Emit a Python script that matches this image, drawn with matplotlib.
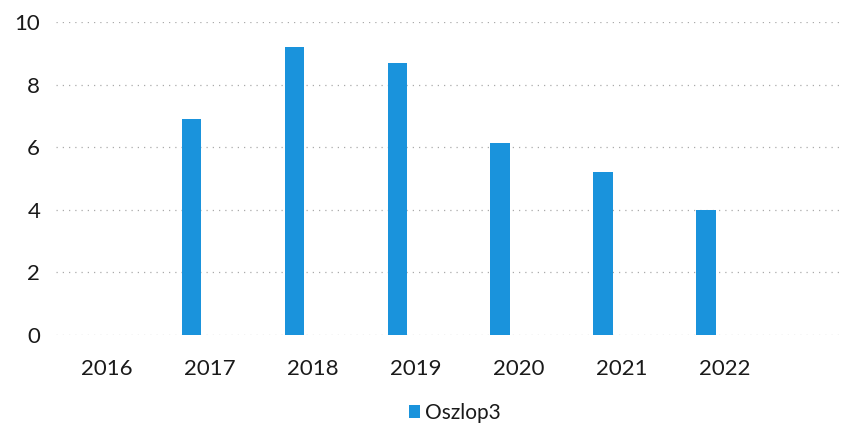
import matplotlib
matplotlib.use("Agg")
import matplotlib.pyplot as plt
import numpy as np

categories = ["2016", "2017", "2018", "2019", "2020", "2021", "2022"]
values = [0, 6.9, 9.2, 8.7, 6.15, 5.2, 4.0]
series_name = "Oszlop3"
yticks = [0, 2, 4, 6, 8, 10]

plt.rcParams['font.family'] = ['Lato', 'DejaVu Sans']

fig = plt.figure(figsize=(8.52, 4.28), dpi=100)
ax = fig.add_axes([55.5/852, 1-335/428, (840-55.5)/852, (335-22)/428])

x = np.arange(len(categories))
bars = ax.bar(x - 0.18, values, width=0.19, color="#1a93dc", label=series_name, zorder=3)

ax.set_xlim(-0.5, 7.12)
ax.set_ylim(0, 10)
ax.set_yticks(yticks)
ax.set_yticklabels([str(v) for v in yticks])
ax.set_xticks(x)
ax.set_xticklabels(categories)
for s in ax.spines.values():
    s.set_visible(False)
ax.tick_params(axis='both', length=0, labelsize=16, colors="#1a1a1a")
ax.tick_params(axis='x', pad=17)
ax.tick_params(axis='y', pad=11)
ax.yaxis.grid(True, color="#aaaaaa", linestyle=(0, (1, 4)), linewidth=0.9, zorder=0)

fig.legend(handles=[bars], labels=[series_name], loc="center", bbox_to_anchor=(455/852, 1-413/428),
           frameon=False, fontsize=15, handlelength=0.55, handleheight=0.55, handletextpad=0.25,
           labelcolor="#1a1a1a")

fig.savefig("out.png", dpi=100, facecolor="white")
